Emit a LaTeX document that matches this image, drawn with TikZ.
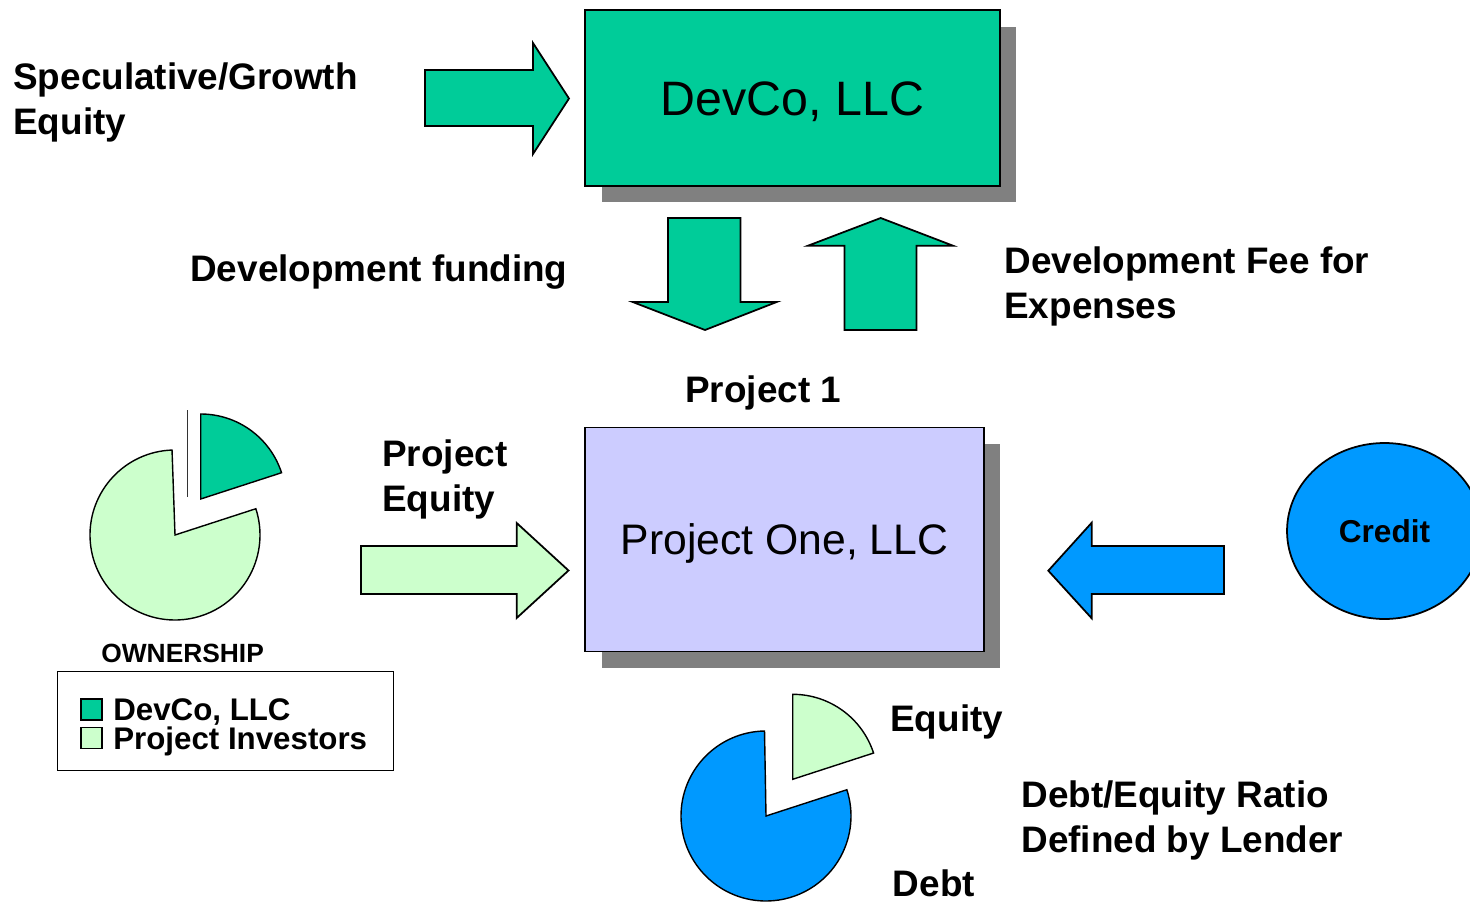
\documentclass[tikz,border=0pt]{standalone}
\usepackage{fontspec}
\setmainfont{Liberation Sans}
\usetikzlibrary{shapes.geometric,shadows}
\definecolor{devgreen}{HTML}{00CC99}
\definecolor{lightgreen}{HTML}{CCFFCC}
\definecolor{bluefill}{HTML}{0099FF}
\definecolor{lavfill}{HTML}{CCCCFF}
\definecolor{shadowgray}{HTML}{808080}
\begin{document}
\begin{tikzpicture}[x=0.02cm,y=0.02cm,
  lbl/.style={font=\bfseries\fontsize{21}{25}\selectfont, anchor=base west, inner sep=0pt},
  boxnode/.style={draw=black, line width=1pt, inner sep=0pt,
    drop shadow={shadow xshift=0.33cm, shadow yshift=-0.33cm, fill=shadowgray, opacity=1}},
  blockarrow/.style={draw=black, line width=1pt, line join=miter},
  slice/.style={draw=black, line width=0.8pt, line join=miter},
  legsq/.style={draw=black, line width=0.8pt, minimum size=0.42cm, inner sep=0pt},
  legtxt/.style={font=\bfseries\fontsize{17.8}{21}\selectfont, anchor=base west, inner sep=0pt}]
\useasboundingbox (0,0) rectangle (1470,-902);

% boxes
\node[boxnode, fill=devgreen, minimum width=8.3cm, minimum height=3.52cm,
      text height=19.7pt, text depth=0pt,
      font=\fontsize{27.5}{32}\selectfont] (devco) at (792.5,-98) {DevCo, LLC};
\node[boxnode, fill=lavfill, minimum width=7.98cm, minimum height=4.48cm,
      text height=17.4pt, text depth=0pt,
      font=\fontsize{24.3}{29}\selectfont] (proj) at (784.5,-539.5) {Project One, LLC};
\node[ellipse, draw=black, line width=1pt, fill=bluefill, minimum width=3.9cm, minimum height=3.52cm,
      inner sep=0pt, font=\bfseries\fontsize{18}{22}\selectfont] (credit) at (1384.5,-531) {Credit};

% block arrows
\draw[blockarrow, fill=devgreen] (425,-70) -- (533,-70) -- (533,-43) -- (569,-98.5)
  -- (533,-154) -- (533,-126) -- (425,-126) -- cycle;
\draw[blockarrow, fill=devgreen] (668,-218) -- (740.5,-218) -- (740.5,-302) -- (776.7,-302)
  -- (705,-330) -- (632.7,-302) -- (668,-302) -- cycle;
\draw[blockarrow, fill=devgreen] (844.5,-330) -- (916.5,-330) -- (916.5,-245.7) -- (953,-245.7)
  -- (880.7,-218) -- (808,-245.7) -- (844.5,-245.7) -- cycle;
\draw[blockarrow, fill=lightgreen] (361,-546) -- (516.7,-546) -- (516.7,-523) -- (568.5,-570.5)
  -- (516.7,-618) -- (516.7,-594) -- (361,-594) -- cycle;
\draw[blockarrow, fill=bluefill] (1224,-546) -- (1091.7,-546) -- (1091.7,-522.7) -- (1048.3,-570.7)
  -- (1091.7,-618.3) -- (1091.7,-594) -- (1224,-594) -- cycle;

% labels
\node[lbl] (spec1) at (13,-89.5) {Speculative/Growth};
\node[lbl] (spec2) at (13,-134.5) {Equity};
\node[lbl] (devfund) at (190,-281) {Development funding};
\node[lbl] (fee1) at (1004,-273.5) {Development Fee for};
\node[lbl] (fee2) at (1004,-318.5) {Expenses};
\node[lbl] (p1) at (685,-402) {Project 1};
\node[lbl] (pe1) at (382,-466.5) {Project};
\node[lbl] (pe2) at (382,-511) {Equity};
\node[lbl] (eq) at (890,-731.5) {Equity};
\node[lbl] (ratio1) at (1021,-807.5) {Debt/Equity Ratio};
\node[lbl] (ratio2) at (1021,-852.5) {Defined by Lender};
\node[lbl] (debt) at (892.5,-896.5) {Debt};

% ownership pie
\draw[slice, fill=lightgreen] (175,-535) -- ++(92:85) arc (92:378:85) -- cycle;
\draw[slice, fill=devgreen] (200.7,-499) -- ++(18:85) arc (18:90:85) -- cycle;
\draw[line width=0.8pt, black!80] (187.7,-410) -- (187.7,-497);

% debt/equity pie
\draw[slice, fill=bluefill] (766,-816) -- ++(91:85) arc (91:378:85) -- cycle;
\draw[slice, fill=lightgreen] (792.7,-779.3) -- ++(18:85) arc (18:90:85) -- cycle;

% ownership legend
\node[font=\bfseries\fontsize{15}{18}\selectfont, anchor=base west, inner sep=0pt] (own) at (101,-662) {OWNERSHIP};
\draw[line width=0.8pt] (57.5,-671.7) rectangle (393.3,-770.3);
\node[legsq, fill=devgreen] (sq1) at (91.5,-709.5) {};
\node[legsq, fill=lightgreen] (sq2) at (91.5,-738) {};
\node[legtxt] (leg1) at (113,-720.5) {DevCo, LLC};
\node[legtxt] (leg2) at (113,-749) {Project Investors};
\end{tikzpicture}
\end{document}
